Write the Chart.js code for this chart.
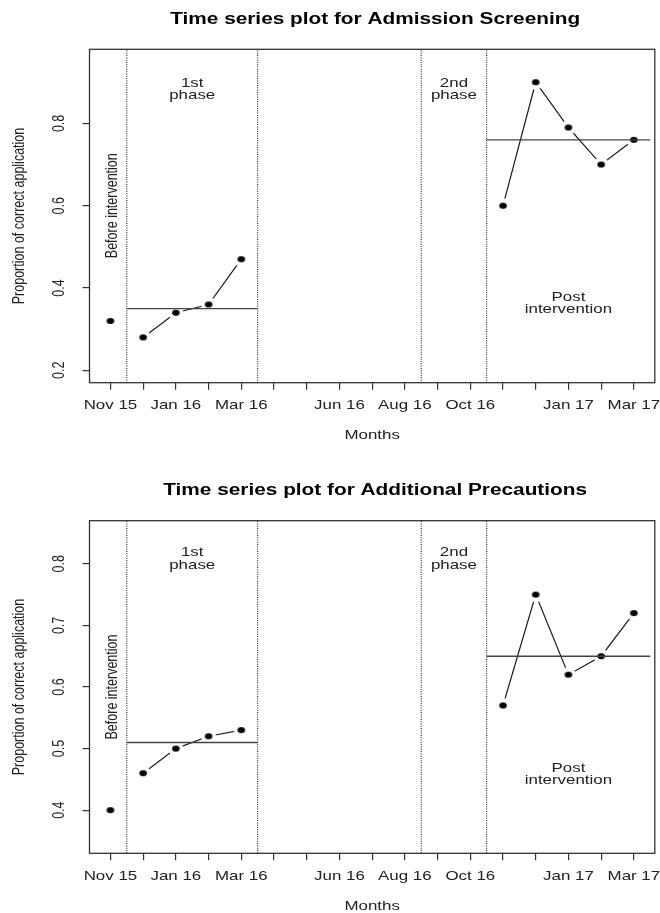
<!DOCTYPE html>
<html>
<head>
<meta charset="utf-8">
<script src="https://cdn.jsdelivr.net/npm/chart.js@4.4.0/dist/chart.umd.min.js"></script>
<style>
html, body { margin: 0; padding: 0; background: #fff; }
canvas { display: block; }
</style>
</head>
<body>
<canvas id="admChart" width="660" height="460"></canvas>
<canvas id="addChart" width="660" height="453"></canvas>
<script>
// months on the x axis (index 0 = Nov 15)
const monthLabels = ['Nov 15','Dec 15','Jan 16','Feb 16','Mar 16','Apr 16','May 16','Jun 16','Jul 16','Aug 16','Sep 16','Oct 16','Nov 16','Dec 16','Jan 17','Feb 17','Mar 17'];
const shownMonths = ['Nov 15','Jan 16','Mar 16','Jun 16','Aug 16','Oct 16','Jan 17','Mar 17'];
const beforeMonths = ['Nov 15'];
const phase1Months = ['Dec 15','Jan 16','Feb 16','Mar 16'];
const postMonths = ['Nov 16','Dec 16','Jan 17','Feb 17','Mar 17'];
const phaseBreaks = [0.5, 4.5, 9.5, 11.5];
const phase1Span = [0.5, 4.5];
const postSpan = [11.5, 16.5];

// Admission Screening
const admBefore = [0.32];
const admPhase1 = [0.28, 0.34, 0.36, 0.47];
const admPost = [0.60, 0.90, 0.79, 0.70, 0.76];
const admPhase1Mean = 0.35;
const admPostMean = 0.76;
const admYLim = [0.2, 0.95];
const admYTicks = [0.2, 0.4, 0.6, 0.8];

// Additional Precautions
const addBefore = [0.40];
const addPhase1 = [0.46, 0.50, 0.52, 0.53];
const addPost = [0.57, 0.75, 0.62, 0.65, 0.72];
const addPhase1Mean = 0.51;
const addPostMean = 0.65;
const addYLim = [0.35, 0.85];
const addYTicks = [0.4, 0.5, 0.6, 0.7, 0.8];

const admNotes = [
    { text: '1st\nphase', x: 2.5, y: 0.883 },
    { text: '2nd\nphase', x: 10.5, y: 0.883 },
    { text: 'Before intervention', x: 0.05, y: 0.6, vertical: true },
    { text: 'Post\nintervention', x: 14, y: 0.363 }
];
const addNotes = [
    { text: '1st\nphase', x: 2.5, y: 0.808 },
    { text: '2nd\nphase', x: 10.5, y: 0.808 },
    { text: 'Before intervention', x: 0.05, y: 0.6, vertical: true },
    { text: 'Post\nintervention', x: 14, y: 0.458 }
];

const FONT = '"Liberation Sans", Arial, sans-serif';
const SX = 1.3; // the original is stretched sideways

// R style limits: 4% extra on each side
function rLim(lim) {
    const d = (lim[1] - lim[0]) * 0.04;
    return [lim[0] - d, lim[1] + d];
}

function drawText(ctx, text, x, y, font, color, vertical) {
    ctx.save();
    ctx.translate(x, y);
    ctx.scale(SX, 1);
    if (vertical) ctx.rotate(-Math.PI / 2);
    ctx.font = font;
    ctx.fillStyle = color;
    ctx.textAlign = 'center';
    ctx.textBaseline = 'middle';
    ctx.fillText(text, 0, 0);
    ctx.restore();
}

// filled dot with a white halo so the joining lines stop short (type = "b")
function makeDot() {
    const c = document.createElement('canvas');
    c.width = 18; c.height = 18;
    const g = c.getContext('2d');
    g.fillStyle = '#fff';
    g.beginPath(); g.arc(9, 9, 7.5, 0, Math.PI * 2); g.fill();
    g.fillStyle = '#000';
    g.beginPath(); g.ellipse(9, 9, 3.8, 2.9, 0, 0, Math.PI * 2); g.fill();
    return c;
}
const dot = makeDot();

const rDecor = {
    id: 'rDecor',
    afterDraw(chart, args, opts) {
        const ctx = chart.ctx, a = chart.chartArea;
        const xs = chart.scales.x, ys = chart.scales.y;
        ctx.save();
        ctx.strokeStyle = '#333';
        ctx.lineWidth = 1.3;
        ctx.strokeRect(a.left, a.top, a.right - a.left, a.bottom - a.top);
        ctx.restore();
        drawText(ctx, opts.title, (a.left + a.right) / 2 + 3, a.top - 30, 'bold 16px ' + FONT, '#000');
        monthLabels.forEach((m, i) => {
            if (shownMonths.includes(m)) drawText(ctx, m, xs.getPixelForValue(i), a.bottom + 23, '13px ' + FONT, '#222');
        });
        opts.yTicks.forEach(v => drawText(ctx, v.toFixed(1), 60, ys.getPixelForValue(v), '12.5px ' + FONT, '#222', true));
        drawText(ctx, 'Months', (a.left + a.right) / 2, a.bottom + 53, '13px ' + FONT, '#222');
        drawText(ctx, 'Proportion of correct application', 20, (a.top + a.bottom) / 2, '12.5px ' + FONT, '#222', true);
        opts.notes.forEach(n => {
            const px = xs.getPixelForValue(n.x), py = ys.getPixelForValue(n.y);
            if (n.vertical) {
                drawText(ctx, n.text, px, py, '12.5px ' + FONT, '#222', true);
                return;
            }
            const lines = n.text.split('\n');
            lines.forEach((t, k) => {
                drawText(ctx, t, px, py + (k - (lines.length - 1) / 2) * 12.5, '13px ' + FONT, '#222');
            });
        });
    }
};

function toPoints(months, values) {
    return months.map((m, i) => ({ x: monthLabels.indexOf(m), y: values[i] }));
}

function makeChart(id, d) {
    const yl = rLim(d.yLim);
    const h = document.getElementById(id).height;
    const series = (data, line) => ({
        data, showLine: line, borderColor: '#1a1a1a', borderWidth: 1.2,
        pointStyle: dot, pointRadius: 3, order: 2
    });
    const hLine = (span, v) => ({
        data: [{ x: span[0], y: v }, { x: span[1], y: v }],
        borderColor: '#444', borderWidth: 1.4, pointRadius: 0, order: 0
    });
    const vLines = phaseBreaks.map(b => ({
        data: [{ x: b, y: yl[0] }, { x: b, y: yl[1] }],
        borderColor: '#222', borderWidth: 1.1, borderDash: [1, 1.3], pointRadius: 0, order: 0
    }));
    return new Chart(document.getElementById(id), {
        type: 'line',
        data: {
            datasets: [
                series(toPoints(beforeMonths, d.before), false),
                series(toPoints(phase1Months, d.phase1), true),
                series(toPoints(postMonths, d.post), true),
                hLine(phase1Span, d.phase1Mean),
                hLine(postSpan, d.postMean),
                ...vLines
            ]
        },
        options: {
            responsive: false,
            animation: false,
            layout: { padding: { top: d.top, right: 4, left: 0, bottom: 0 } },
            plugins: {
                legend: { display: false },
                tooltip: { enabled: false },
                rDecor: { title: d.title, yTicks: d.yTicks, notes: d.notes }
            },
            scales: {
                x: {
                    type: 'linear', min: -0.64, max: 16.64,
                    afterBuildTicks: s => { s.ticks = monthLabels.map((m, i) => ({ value: i })); },
                    afterFit: s => { s.height = h - d.bottom; },
                    ticks: { autoSkip: false, callback: () => '', color: 'rgba(0,0,0,0)' },
                    grid: { drawOnChartArea: false, drawTicks: true, tickLength: 7, color: '#333', lineWidth: 1.2 },
                    border: { display: false }
                },
                y: {
                    min: yl[0], max: yl[1],
                    afterBuildTicks: s => { s.ticks = d.yTicks.map(v => ({ value: v })); },
                    afterFit: s => { s.width = 89.5; },
                    ticks: { callback: () => '', color: 'rgba(0,0,0,0)' },
                    grid: { drawOnChartArea: false, drawTicks: true, tickLength: 7, color: '#333', lineWidth: 1.2 },
                    border: { display: false }
                }
            }
        },
        plugins: [rDecor]
    });
}

makeChart('admChart', {
    title: 'Time series plot for Admission Screening',
    before: admBefore, phase1: admPhase1, post: admPost,
    phase1Mean: admPhase1Mean, postMean: admPostMean,
    yLim: admYLim, yTicks: admYTicks, notes: admNotes,
    top: 49.3, bottom: 382.7
});
makeChart('addChart', {
    title: 'Time series plot for Additional Precautions',
    before: addBefore, phase1: addPhase1, post: addPost,
    phase1Mean: addPhase1Mean, postMean: addPostMean,
    yLim: addYLim, yTicks: addYTicks, notes: addNotes,
    top: 60.7, bottom: 393.3
});
</script>
</body>
</html>
